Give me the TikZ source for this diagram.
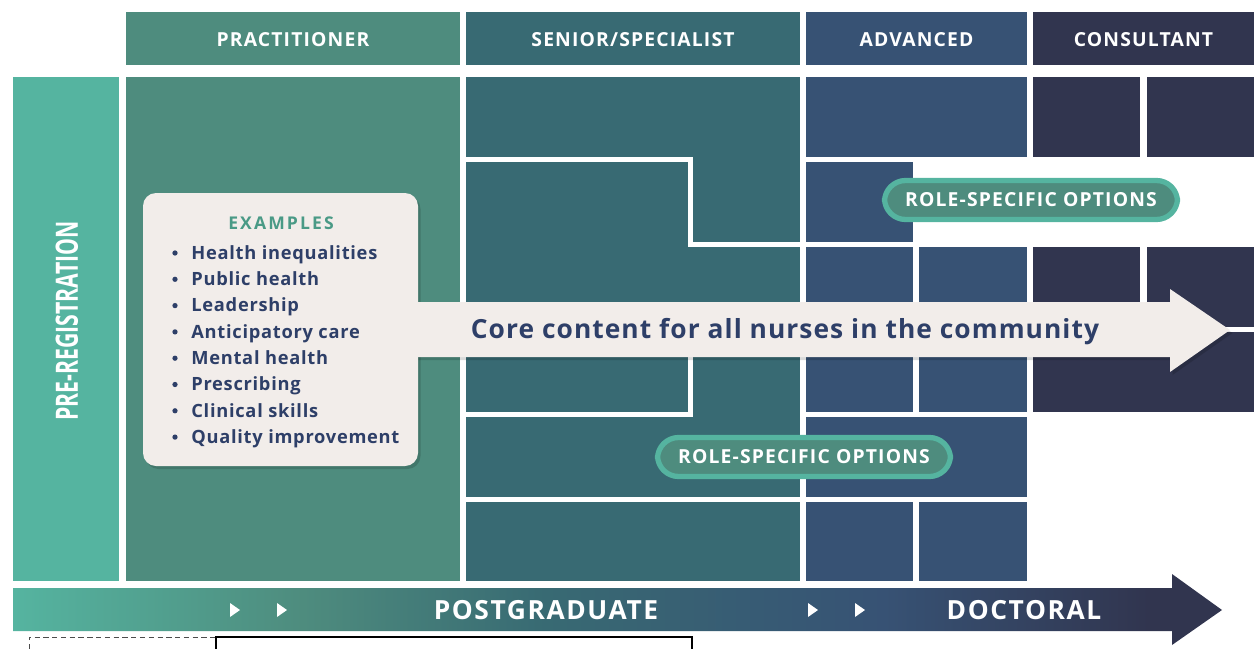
\documentclass[tikz,border=0pt]{standalone}
\usepackage{fontspec}
\usepackage{graphicx}
\setmainfont{Open Sans}
\newfontfamily\spaced[LetterSpace=6]{Open Sans}
\newfontfamily\widespaced[LetterSpace=12]{Open Sans}
\newfontfamily\lightspaced[LetterSpace=4]{Open Sans}

\definecolor{preregc}{HTML}{55B4A0}
\definecolor{practc}{HTML}{4E8C7E}
\definecolor{seniorc}{HTML}{386A73}
\definecolor{advc}{HTML}{375274}
\definecolor{consc}{HTML}{31354F}
\definecolor{paper}{HTML}{F2EDEA}
\definecolor{inkc}{HTML}{2E3F68}
\definecolor{tealtxt}{HTML}{4A9A86}

\pgfdeclarehorizontalshading{parcours}{100bp}{color(0bp)=(preregc); color(25bp)=(preregc); color(37bp)=(practc); color(47bp)=(seniorc); color(61bp)=(advc); color(72bp)=(consc); color(100bp)=(consc)}

\tikzset{
	entete/.style={text=white, font=\spaced\bfseries\fontsize{11}{13}\selectfont},
	etape/.style={text=white, font=\spaced\bfseries\fontsize{15}{17}\selectfont},
	gap/.style={white, line width=0.1cm},
	titre/.style={text=tealtxt, font=\widespaced\bfseries\fontsize{10}{12}\selectfont},
	puce/.style={text=inkc, inner sep=0pt, font=\lightspaced\bfseries\fontsize{10.4}{12}\selectfont},
	coeur/.style={text=inkc, font=\lightspaced\bfseries\fontsize{15}{18}\selectfont},
	option/.style={draw=preregc, line width=3pt, fill=practc, rounded corners=0.42cm,
		minimum width=5.86cm, minimum height=0.78cm, text=white,
		font=\spaced\bfseries\fontsize{11}{13}\selectfont}
}

\begin{document}
\begin{tikzpicture}[x=0.02cm,y=-0.02cm]
	\useasboundingbox (0,0) rectangle (1258,649);
	% en-tetes
	\fill[practc] (126,12) rectangle (460,65);
	\fill[seniorc] (466,12) rectangle (800,65);
	\fill[advc] (806,12) rectangle (1027,65);
	\fill[consc] (1033,12) rectangle (1254,65);
	\node[entete] (hprac) at (293,40) {PRACTITIONER};
	\node[entete] (hsen) at (633,40) {SENIOR/SPECIALIST};
	\node[entete] (hadv) at (916.5,40) {ADVANCED};
	\node[entete] (hcons) at (1143.5,40) {CONSULTANT};

	% colonnes
	\fill[preregc] (13,77) rectangle (119,581);
	\node[text=white, rotate=90, font=\bfseries\fontsize{17.5}{20}\selectfont] (preg) at (67,321) {\scalebox{0.69}[1]{PRE-REGISTRATION}};
	\fill[practc] (126,77) rectangle (460,581);
	\fill[seniorc] (466,77) rectangle (800,581);
	\draw[gap] (466,159.5) -| (690.5,244.5) -- (800,244.5);
	\draw[gap] (690.5,330) |- (466,414.5);
	\draw[gap] (466,499.5) -- (800,499.5);
	\foreach \xa/\ya/\xb/\yb in {806/77/1027/157, 806/162/913/242, 806/247/913/412, 919/247/1027/412,
		806/417/1027/497, 806/502/913/581, 919/502/1027/581}{
		\fill[advc] (\xa,\ya) rectangle (\xb,\yb);}
	\foreach \xa/\ya/\xb/\yb in {1033/77/1140/157, 1147/77/1254/157, 1033/247/1140/330,
		1147/247/1254/327, 1033/332/1254/412}{
		\fill[consc] (\xa,\ya) rectangle (\xb,\yb);}

	% fleche du bas
	\shade[shading=parcours] (13,588) -- (1172,588) -- (1172,574) -- (1222,610) -- (1172,645) -- (1172,631) -- (13,631) -- cycle;
	\foreach \t in {230,277,808,855}{
		\fill[white] (\t,603) -- (\t+10,610) -- (\t,617) -- cycle;}
	\node[etape] (postg) at (546,610) {POSTGRADUATE};
	\node[etape] (doct) at (1024,610) {DOCTORAL};

	% bloc exemples et fleche centrale
	\begin{scope}[shift={(2.5,3)}]
		\fill[black, opacity=.15] (410,302) -- (1170,302) -- (1170,289) -- (1230,330) -- (1170,372) -- (1170,357) -- (410,357) -- cycle;
		\fill[black, opacity=.15, rounded corners=0.26cm] (143,193) rectangle (418,466);
	\end{scope}
	\fill[paper] (410,302) -- (1170,302) -- (1170,289) -- (1230,330) -- (1170,372) -- (1170,357) -- (410,357) -- cycle;
	\fill[paper, rounded corners=0.26cm] (143,193) rectangle (418,466);
	\node[titre] (ex) at (281,223) {EXAMPLES};
	\foreach \ligne [count=\i from 0] in {Health inequalities, Public health, Leadership, Anticipatory care,
		Mental health, Prescribing, Clinical skills, Quality improvement}{
		\fill[inkc] (175,253+26.3*\i) circle (1.5pt);
		\node[puce, anchor=base west] (ex\i) at (191,259.3+26.3*\i) {\ligne};}
	\node[coeur] (core) at (785,332) {Core content for all nurses in the community};

	% options
	\node[option] (opt1) at (1031,200) {ROLE-SPECIFIC OPTIONS};
	\node[option] (opt2) at (804,457) {ROLE-SPECIFIC OPTIONS};

	% traits du bas
	\draw[densely dashed, gray!60!black, line width=.5pt] (29,649) -- (29,637) -- (216,637);
	\draw[black, line width=.6pt] (216,649) -- (216,637) -- (692,637) -- (692,649);
\end{tikzpicture}
\end{document}
